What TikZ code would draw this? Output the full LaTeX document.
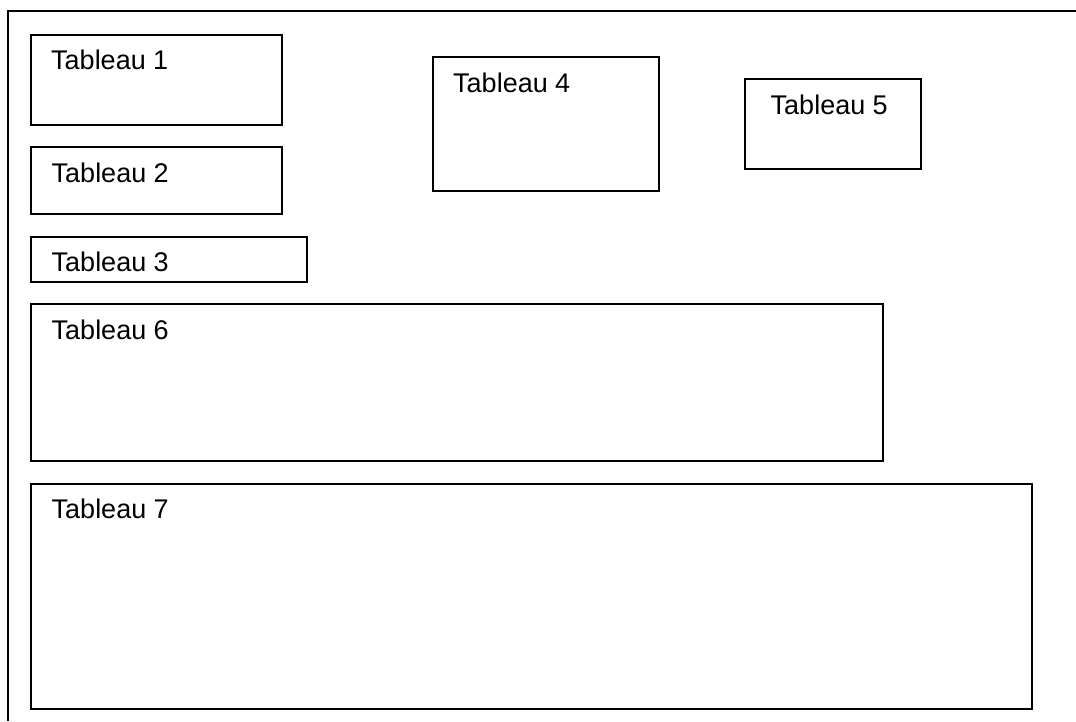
\documentclass[tikz,border=0pt]{standalone}
\usepackage{fontspec}
\setmainfont{Liberation Sans}
\usepackage{tikz}
\usetikzlibrary{calc}

\tikzset{
  tab/.style={draw, line width=1.8pt, anchor=north west, inner sep=0pt},
  lbl/.style={anchor=base west, inner sep=0pt, font=\fontsize{27}{32}\selectfont}
}

\begin{document}
\begin{tikzpicture}[x=1pt, y=-1pt]
        \useasboundingbox (0,0) rectangle (1076,721);
        %%Frame
        \coordinate (fbot) at (8,721);
        \coordinate (fcorner) at (8,11);
        \coordinate (fright) at (1076,11);
        \draw[line width=1.8pt] (fbot) to (fcorner) to (fright);
        %%Left column
        \node[tab, minimum width=251, minimum height=90] (t1) at (30,34) {};
        \node[lbl] (l1) at ($(t1.north west)+(21,35.5)$) {Tableau 1};
        \node[tab, minimum width=251, minimum height=67] (t2) at (30,146) {};
        \node[lbl] (l2) at ($(t2.north west)+(21.5,36)$) {Tableau 2};
        \node[tab, minimum width=276, minimum height=45] (t3) at (30,236) {};
        \node[lbl] (l3) at ($(t3.north west)+(21.5,35)$) {Tableau 3};
        %%Top row
        \node[tab, minimum width=226, minimum height=134] (t4) at (432,56) {};
        \node[lbl] (l4) at ($(t4.north west)+(21,36)$) {Tableau 4};
        \node[tab, minimum width=176, minimum height=90] (t5) at (744,78) {};
        \node[lbl] (l5) at ($(t5.north west)+(26.5,36)$) {Tableau 5};
        %%Wide tables
        \node[tab, minimum width=852, minimum height=157] (t6) at (30,303) {};
        \node[lbl] (l6) at ($(t6.north west)+(21.5,36)$) {Tableau 6};
        \node[tab, minimum width=1001, minimum height=225] (t7) at (30,483) {};
        \node[lbl] (l7) at ($(t7.north west)+(21.5,35.5)$) {Tableau 7};
\end{tikzpicture}
\end{document}
